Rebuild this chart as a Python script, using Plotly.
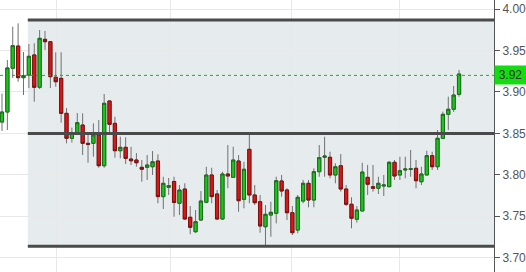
import plotly.graph_objects as go

open_ = [3.8637, 3.8758, 3.9285, 3.9554, 3.9172, 3.9204, 3.9446, 3.9056, 3.9635, 3.9606,
         3.9177, 3.9164, 3.8742, 3.8441, 3.8501, 3.8601, 3.8380, 3.8380, 3.8481, 3.8110,
         3.8891, 3.8621, 3.8291, 3.8332, 3.8191, 3.8179, 3.8091, 3.8091, 3.8098, 3.8167,
         3.7737, 3.7850, 3.7920, 3.7657, 3.7829, 3.7488, 3.7314, 3.7455, 3.7669, 3.7998,
         3.7769, 3.7467, 3.8010, 3.7970, 3.8167, 3.7705, 3.8308, 3.7757, 3.7676, 3.7374,
         3.7515, 3.7536, 3.7926, 3.7817, 3.7543, 3.7334, 3.7684, 3.7898, 3.7696, 3.8038,
         3.8212, 3.8212, 3.7998, 3.8110, 3.7829, 3.7645, 3.7464, 3.7564, 3.7970, 3.7857,
         3.7838, 3.7865, 3.7857, 3.8151, 3.7998, 3.8058, 3.8064, 3.8079, 3.7917, 3.7998,
         3.8231, 3.8098, 3.8441, 3.8730, 3.8791, 3.8971]
high = [3.8980, 3.9385, 3.9787, 3.9828, 3.9482, 3.9578, 3.9587, 3.9747, 3.9735, 3.9614,
        3.9478, 3.9478, 3.8806, 3.8570, 3.8746, 3.8742, 3.8505, 3.8621, 3.8661, 3.8975,
        3.8895, 3.8701, 3.8460, 3.8453, 3.8339, 3.8263, 3.8179, 3.8239, 3.8287, 3.8248,
        3.7977, 3.7962, 3.7977, 3.7877, 3.7898, 3.7624, 3.7576, 3.7805, 3.8098, 3.8086,
        3.7817, 3.8038, 3.8360, 3.8339, 3.8239, 3.8158, 3.8493, 3.7877, 3.7757, 3.7636,
        3.7676, 3.7977, 3.7998, 3.7838, 3.7624, 3.7757, 3.7938, 3.7938, 3.8079, 3.8360,
        3.8460, 3.8279, 3.8139, 3.8251, 3.7877, 3.7729, 3.7624, 3.8146, 3.8119, 3.8119,
        3.7977, 3.7998, 3.8167, 3.8179, 3.8219, 3.8219, 3.8300, 3.8179, 3.8098, 3.8291,
        3.8279, 3.8541, 3.8762, 3.8943, 3.9072, 3.9265]
low = [3.8529, 3.8541, 3.9168, 3.9123, 3.8963, 3.9047, 3.8882, 3.9035, 3.9506, 3.9047,
       3.9063, 3.8629, 3.8380, 3.8388, 3.8481, 3.8239, 3.8146, 3.8219, 3.8086, 3.8086,
       3.8489, 3.8207, 3.8199, 3.8131, 3.8119, 3.8098, 3.7917, 3.7938, 3.7998, 3.7657,
       3.7588, 3.7757, 3.7495, 3.7515, 3.7455, 3.7283, 3.7298, 3.7443, 3.7657, 3.7657,
       3.7455, 3.7455, 3.7838, 3.7962, 3.7555, 3.7596, 3.7657, 3.7636, 3.7302, 3.7133,
       3.7254, 3.7415, 3.7737, 3.7455, 3.7274, 3.7295, 3.7657, 3.7608, 3.7608, 3.7977,
       3.7977, 3.7958, 3.7898, 3.7797, 3.7624, 3.7355, 3.7423, 3.7564, 3.7757, 3.7797,
       3.7769, 3.7745, 3.7853, 3.7938, 3.7938, 3.7958, 3.7977, 3.7838, 3.7877, 3.7998,
       3.8058, 3.8058, 3.8430, 3.8541, 3.8758, 3.8943]
close = [3.8758, 3.9289, 3.9558, 3.9172, 3.9198, 3.9430, 3.9056, 3.9647, 3.9606, 3.9184,
         3.9123, 3.8742, 3.8441, 3.8501, 3.8629, 3.8380, 3.8368, 3.8481, 3.8110, 3.8863,
         3.8609, 3.8291, 3.8332, 3.8199, 3.8170, 3.8146, 3.8067, 3.8119, 3.8158, 3.7737,
         3.7898, 3.7869, 3.7667, 3.7817, 3.7467, 3.7367, 3.7435, 3.7684, 3.7998, 3.7737,
         3.7467, 3.8010, 3.7986, 3.8179, 3.7688, 3.8067, 3.7757, 3.7664, 3.7383, 3.7524,
         3.7548, 3.7929, 3.7805, 3.7543, 3.7302, 3.7729, 3.7898, 3.7696, 3.8038, 3.8207,
         3.8227, 3.7998, 3.8098, 3.7829, 3.7645, 3.7476, 3.7576, 3.8034, 3.7886, 3.7838,
         3.7898, 3.7877, 3.8151, 3.7986, 3.8050, 3.8070, 3.8073, 3.7929, 3.8010, 3.8231,
         3.8098, 3.8441, 3.8730, 3.8791, 3.8963, 3.9216]
x = list(range(len(open_)))

channel_top = 3.9868
channel_mid = 3.8500
channel_bottom = 3.7138
channel_start = 4.8
last_price = 3.92
y_ticks = [3.70, 3.75, 3.80, 3.85, 3.90, 3.95, 4.00]
x_grid = [10.15, 31.25, 53.8, 73.95]

X_MIN, X_MAX = -0.37, 91.5

body_hi = [max(o, c) for o, c in zip(open_, close)]
body_lo = [min(o, c) for o, c in zip(open_, close)]

fig = go.Figure()
# wicks
fig.add_trace(go.Candlestick(
    x=x, open=open_, high=high, low=low, close=close,
    increasing=dict(line=dict(color="#707070", width=1), fillcolor="#707070"),
    decreasing=dict(line=dict(color="#707070", width=1), fillcolor="#707070"),
    whiskerwidth=0, showlegend=False, hoverinfo="skip"))
# bodies
fig.add_trace(go.Candlestick(
    x=x, open=open_, high=body_hi, low=body_lo, close=close,
    increasing=dict(line=dict(color="#1d6a1d", width=1), fillcolor="#16c916"),
    decreasing=dict(line=dict(color="#7a1212", width=1), fillcolor="#dd1515"),
    whiskerwidth=0, showlegend=False, hoverinfo="skip"))

shapes = [
    dict(type="rect", xref="x", yref="y", x0=channel_start, x1=X_MAX,
         y0=channel_bottom, y1=channel_top, fillcolor="#e6ecee",
         line=dict(width=0), layer="below"),
]
for lv in (channel_top, channel_mid, channel_bottom):
    shapes.append(dict(type="line", xref="x", yref="y", x0=channel_start, x1=X_MAX,
                       y0=lv, y1=lv, line=dict(color="#4a4a4a", width=3), layer="above"))
shapes.append(dict(type="line", xref="paper", yref="y", x0=0, x1=1, y0=last_price, y1=last_price,
                   line=dict(color="#00c000", width=1, dash="dot"), layer="above"))

fig.update_layout(
    width=526, height=272,
    margin=dict(l=0, r=29, t=0, b=0),
    paper_bgcolor="white", plot_bgcolor="white",
    showlegend=False, boxgap=0.15,
    shapes=shapes,
    font=dict(family="Liberation Sans, Arial, sans-serif", size=12, color="#555555"),
    annotations=[dict(xref="paper", yref="y", x=1, y=last_price, xanchor="left", yanchor="middle",
                      text="3.92", showarrow=False, bgcolor="#11dd11",
                      font=dict(size=12, color="#333333"), borderpad=2, width=27)],
)
fig.update_xaxes(range=[X_MIN, X_MAX], rangeslider=dict(visible=False), showticklabels=False,
                 tickmode="array", tickvals=x_grid, ticks="", showgrid=True,
                 gridcolor="#e8e8e8", gridwidth=1, zeroline=False, showline=False)
fig.update_yaxes(range=[3.6828, 4.0109], side="right", tickmode="array", tickvals=y_ticks,
                 ticktext=[f"{v:.2f}" for v in y_ticks], ticks="outside", ticklen=5,
                 tickcolor="#555555", showline=True, linecolor="#555555", linewidth=1,
                 showgrid=True, gridcolor="#e8e8e8", gridwidth=1, zeroline=False,
                 tickfont=dict(size=12, color="#555555"))

fig.write_html("out.html")
